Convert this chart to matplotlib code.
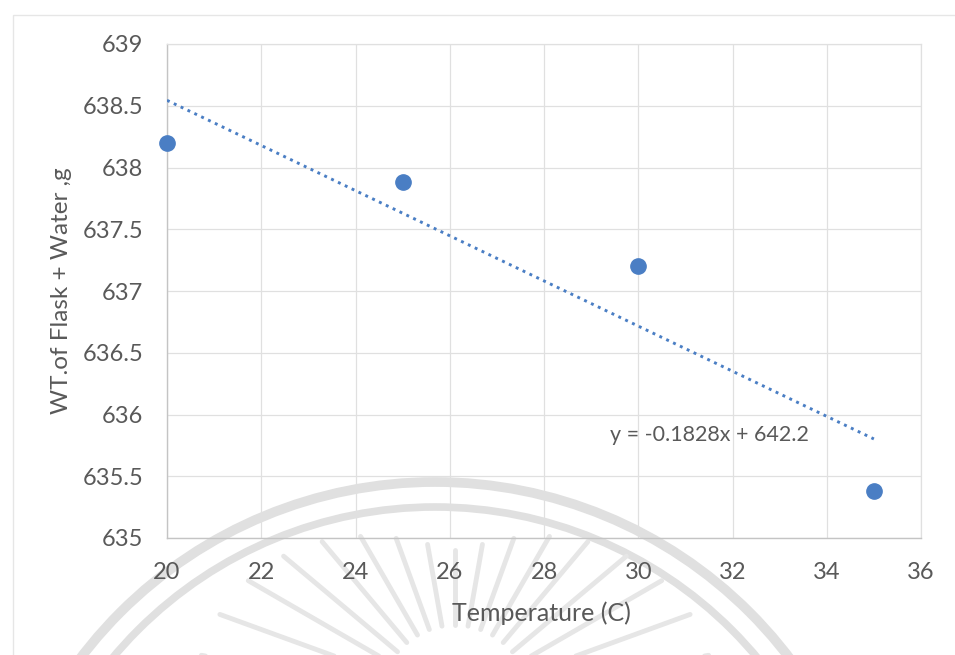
import numpy as np
import matplotlib
matplotlib.use("Agg")
import matplotlib.pyplot as plt
from matplotlib.patches import Circle, Rectangle

# Measurements: temperature (C) vs. weight of flask + water (g)
temperature = [20, 25, 30, 35]
weight = [638.2, 637.88, 637.2, 635.38]

# Linear trendline coefficients (as shown on the chart)
slope = -0.1828
intercept = 642.2

x_ticks = [20, 22, 24, 26, 28, 30, 32, 34, 36]
y_ticks = [635, 635.5, 636, 636.5, 637, 637.5, 638, 638.5, 639]
y_tick_labels = ["635", "635.5", "636", "636.5", "637", "637.5", "638", "638.5", "639"]

TEXT = "#595959"
GRID = "#e0e0e0"
BLUE = "#4a7ec4"
FAINT = "#e0e0e0"

plt.rcParams["font.family"] = ["Lato", "DejaVu Sans"]

W, H = 955, 655
fig = plt.figure(figsize=(W / 100, H / 100), dpi=100)

# Background layer in pixel units: chart border and faint emblem
bg = fig.add_axes([0, 0, 1, 1], zorder=0)
bg.set_xlim(0, W)
bg.set_ylim(H, 0)
bg.axis("off")
bg.add_patch(Rectangle((13, 15), 1000, 700, fill=False, ec="#e6e6e6", lw=1.0))
bg.add_patch(Circle((435, 927), 445, fill=False, ec=FAINT, lw=7.0))
bg.add_patch(Circle((435, 927), 420, fill=False, ec=FAINT, lw=5.5))
cx, cy = 455, 700
ray_angles = np.linspace(10, 170, 17)
for a in ray_angles:
    t = np.deg2rad(a)
    r_out = 150 + 110 * abs(np.cos(t)) ** 1.5
    r_in = 75
    bg.plot([cx + r_in * np.cos(t), cx + r_out * np.cos(t)],
            [cy - r_in * np.sin(t), cy - r_out * np.sin(t)],
            color="#e6e6e6", lw=3.5, solid_capstyle="round")

# Main chart
ax = fig.add_axes([167 / W, 1 - 538 / H, (921 - 167) / W, (538 - 44) / H], zorder=1)
ax.patch.set_alpha(0)
ax.set_xlim(20, 36)
ax.set_ylim(635, 639)
ax.set_xticks(x_ticks)
ax.set_yticks(y_ticks)
ax.set_yticklabels(y_tick_labels)
ax.grid(True, color=GRID, lw=0.9)
ax.set_axisbelow(True)
for side in ["top", "right"]:
    ax.spines[side].set_color(GRID)
    ax.spines[side].set_linewidth(0.9)
for side in ["left", "bottom"]:
    ax.spines[side].set_color("#c4c4c4")
    ax.spines[side].set_linewidth(1.0)
ax.tick_params(axis="both", length=0, labelsize=17, colors=TEXT)
ax.tick_params(axis="x", pad=17)
ax.tick_params(axis="y", pad=17)

ax.scatter(temperature, weight, s=11 ** 2, color=BLUE, zorder=4, clip_on=False)

x_fit = np.array([temperature[0], temperature[-1]])
ax.plot(x_fit, slope * x_fit + intercept, color=BLUE, lw=2.1,
        dashes=(1, 1.6), zorder=3)

ax.text(29.4, 635.83, f"y = {slope}x + {intercept}", fontsize=15.5, color=TEXT,
        ha="left", va="center")

# Axis titles placed in figure coordinates
fig.text(541 / W, 1 - 613 / H, "Temperature (C)", fontsize=18, color=TEXT,
         ha="center", va="center")
fig.text(62 / W, 1 - 291 / H, "WT.of Flask + Water ,g", fontsize=17.5, color=TEXT,
         ha="center", va="center", rotation=90)

fig.savefig("out.png", dpi=100)
